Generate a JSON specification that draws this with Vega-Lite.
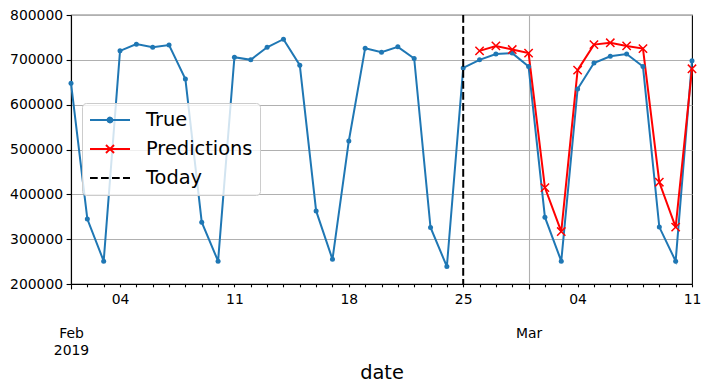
{
  "$schema": "https://vega.github.io/schema/vega-lite/v6.json",
  "width": 621,
  "height": 269,
  "autosize": {"type": "none"},
  "padding": {"left": 71, "top": 15, "right": 19, "bottom": 107},
  "background": "white",
  "config": {
    "font": "DejaVu Sans",
    "view": {"stroke": "black", "strokeWidth": 1.1},
    "axis": {"labelFont": "DejaVu Sans", "titleFont": "DejaVu Sans", "labelColor": "black", "titleColor": "black", "domainColor": "black", "domainWidth": 1.1, "tickColor": "black", "tickWidth": 1.1, "gridColor": "#b0b0b0", "gridWidth": 1.1, "gridOpacity": 1}
  },
  "data": {
    "values": [
      {"date": "2019-02-01", "value": 648000, "series": "True"},
      {"date": "2019-02-02", "value": 345000, "series": "True"},
      {"date": "2019-02-03", "value": 251000, "series": "True"},
      {"date": "2019-02-04", "value": 720000, "series": "True"},
      {"date": "2019-02-05", "value": 735000, "series": "True"},
      {"date": "2019-02-06", "value": 728000, "series": "True"},
      {"date": "2019-02-07", "value": 733000, "series": "True"},
      {"date": "2019-02-08", "value": 657000, "series": "True"},
      {"date": "2019-02-09", "value": 338000, "series": "True"},
      {"date": "2019-02-10", "value": 251000, "series": "True"},
      {"date": "2019-02-11", "value": 706000, "series": "True"},
      {"date": "2019-02-12", "value": 700000, "series": "True"},
      {"date": "2019-02-13", "value": 728000, "series": "True"},
      {"date": "2019-02-14", "value": 746000, "series": "True"},
      {"date": "2019-02-15", "value": 688000, "series": "True"},
      {"date": "2019-02-16", "value": 363000, "series": "True"},
      {"date": "2019-02-17", "value": 255000, "series": "True"},
      {"date": "2019-02-18", "value": 519000, "series": "True"},
      {"date": "2019-02-19", "value": 726000, "series": "True"},
      {"date": "2019-02-20", "value": 717000, "series": "True"},
      {"date": "2019-02-21", "value": 729000, "series": "True"},
      {"date": "2019-02-22", "value": 703000, "series": "True"},
      {"date": "2019-02-23", "value": 326000, "series": "True"},
      {"date": "2019-02-24", "value": 239000, "series": "True"},
      {"date": "2019-02-25", "value": 682000, "series": "True"},
      {"date": "2019-02-26", "value": 700000, "series": "True"},
      {"date": "2019-02-27", "value": 713000, "series": "True"},
      {"date": "2019-02-28", "value": 715000, "series": "True"},
      {"date": "2019-03-01", "value": 685000, "series": "True"},
      {"date": "2019-03-02", "value": 349000, "series": "True"},
      {"date": "2019-03-03", "value": 251000, "series": "True"},
      {"date": "2019-03-04", "value": 635000, "series": "True"},
      {"date": "2019-03-05", "value": 693000, "series": "True"},
      {"date": "2019-03-06", "value": 708000, "series": "True"},
      {"date": "2019-03-07", "value": 713000, "series": "True"},
      {"date": "2019-03-08", "value": 685000, "series": "True"},
      {"date": "2019-03-09", "value": 327000, "series": "True"},
      {"date": "2019-03-10", "value": 251000, "series": "True"},
      {"date": "2019-03-11", "value": 698000, "series": "True"},
      {"date": "2019-02-26", "value": 720000, "series": "Predictions"},
      {"date": "2019-02-27", "value": 731000, "series": "Predictions"},
      {"date": "2019-02-28", "value": 723000, "series": "Predictions"},
      {"date": "2019-03-01", "value": 715000, "series": "Predictions"},
      {"date": "2019-03-02", "value": 415000, "series": "Predictions"},
      {"date": "2019-03-03", "value": 317000, "series": "Predictions"},
      {"date": "2019-03-04", "value": 677000, "series": "Predictions"},
      {"date": "2019-03-05", "value": 734000, "series": "Predictions"},
      {"date": "2019-03-06", "value": 738000, "series": "Predictions"},
      {"date": "2019-03-07", "value": 731000, "series": "Predictions"},
      {"date": "2019-03-08", "value": 725000, "series": "Predictions"},
      {"date": "2019-03-09", "value": 427000, "series": "Predictions"},
      {"date": "2019-03-10", "value": 327000, "series": "Predictions"},
      {"date": "2019-03-11", "value": 680000, "series": "Predictions"},
      {"date": "2019-02-25", "series": "Today"}
    ]
  },
  "encoding": {
    "x": {
      "field": "date",
      "type": "temporal",
      "scale": {"type": "utc", "domain": [{"year": 2019, "month": 2, "date": 1, "utc": true}, {"year": 2019, "month": 3, "date": 11, "utc": true}]},
      "axis": {
        "title": "date",
        "titleFontSize": 19.4,
        "titleFontWeight": "normal",
        "titlePadding": 6,
        "tickCount": {"interval": "day", "step": 1},
        "labelExpr": "utcdate(datum.value) === 1 ? (utcmonth(datum.value) === 1 ? ['Feb', '2019'] : 'Mar') : (utcday(datum.value) === 1 ? utcFormat(datum.value, '%d') : '')",
        "labelOverlap": false,
        "labelFlush": false,
        "labelBound": false,
        "labelFontSize": 13.9,
        "labelBaseline": "top",
        "labelLineHeight": 16.5,
        "labelPadding": {"condition": {"test": "utcdate(datum.value) === 1", "value": 38}, "value": 6},
        "tickSize": {"condition": {"test": "utcdate(datum.value) === 1", "value": 4.9}, "value": 2.8},
        "grid": true,
        "gridOpacity": {"condition": {"test": "utcdate(datum.value) === 1", "value": 1}, "value": 0}
      }
    },
    "y": {
      "field": "value",
      "type": "quantitative",
      "scale": {"domain": [200000, 800000], "nice": false, "zero": false},
      "axis": {
        "title": null,
        "values": [200000, 300000, 400000, 500000, 600000, 700000, 800000],
        "format": "d",
        "labelFontSize": 13.9,
        "tickSize": 4.9,
        "labelPadding": 3.5,
        "grid": true
      }
    }
  },
  "layer": [
    {
      "transform": [{"filter": "datum.series !== 'Today'"}],
      "mark": {"type": "line", "strokeWidth": 2},
      "encoding": {
        "color": {
          "field": "series",
          "type": "nominal",
          "scale": {"domain": ["True", "Predictions", "Today"], "range": ["#1f77b4", "#ff0000", "#000000"]},
          "legend": {
            "title": null,
            "orient": "none",
            "legendX": 11,
            "legendY": 88,
            "labelFontSize": 19.4,
            "labelColor": "black",
            "symbolSize": 1600,
            "symbolStrokeWidth": 2,
            "clipHeight": 20,
            "rowPadding": 9,
            "labelOffset": 15,
            "symbolOffset": 0,
            "padding": 7,
            "fillColor": "rgba(255,255,255,0.8)",
            "strokeColor": "#cccccc",
            "cornerRadius": 4,
            "encode": {
              "symbols": {
                "update": {
                  "shape": {"signal": "datum.value === 'True' ? 'M-1,0L1,0M-0.12,0A0.12,0.12 0 1,1 0.12,0A0.12,0.12 0 1,1 -0.12,0Z' : (datum.value === 'Predictions' ? 'M-1,0L1,0M-0.2,-0.2L0.2,0.2M-0.2,0.2L0.2,-0.2' : 'M-1,0L1,0')"},
                  "fill": {"signal": "datum.value === 'True' ? '#1f77b4' : 'transparent'"},
                  "stroke": {"signal": "datum.value === 'True' ? '#1f77b4' : (datum.value === 'Predictions' ? '#ff0000' : '#000000')"},
                  "strokeDash": {"signal": "datum.value === 'Today' ? [7.7, 3.3] : [1, 0]"},
                  "strokeWidth": {"value": 2},
                  "size": {"value": 1600},
                  "opacity": {"value": 1}
                }
              }
            }
          }
        }
      }
    },
    {
      "transform": [{"filter": "datum.series === 'True'"}],
      "mark": {"type": "point", "shape": "circle", "filled": true, "size": 25, "color": "#1f77b4", "opacity": 1}
    },
    {
      "transform": [{"filter": "datum.series === 'Predictions'"}],
      "mark": {"type": "point", "shape": "M-1,-1L1,1M-1,1L1,-1", "filled": false, "size": 69, "stroke": "#ff0000", "strokeWidth": 1.5, "opacity": 1}
    },
    {
      "transform": [{"filter": "datum.series === 'Today'"}],
      "mark": {"type": "rule", "strokeDash": [7.7, 3.3], "strokeWidth": 2},
      "encoding": {
        "y": {"value": 0},
        "y2": {"value": 269},
        "color": {"field": "series", "type": "nominal"}
      }
    }
  ]
}
